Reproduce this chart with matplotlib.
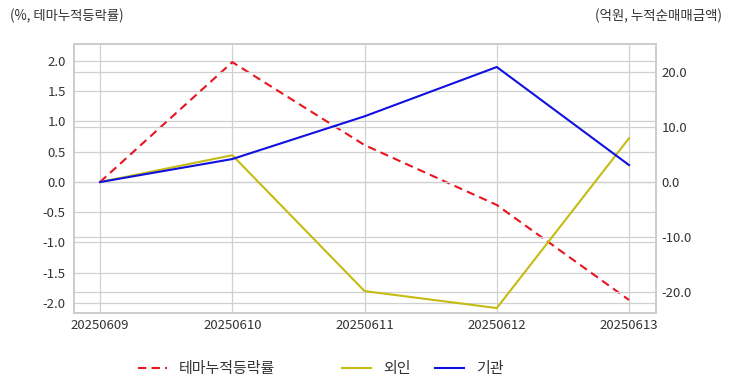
import matplotlib
matplotlib.use("Agg")
import matplotlib.pyplot as plt

plt.rcParams['font.family'] = ['Noto Sans CJK KR', 'DejaVu Sans']
plt.rcParams['axes.unicode_minus'] = False

dates = ['20250609', '20250610', '20250611', '20250612', '20250613']
theme_rate = [0.0, 1.98, 0.61, -0.38, -1.95]
foreign = [0.0, 4.9, -19.9, -23.0, 8.0]
institution = [0.0, 4.2, 12.0, 21.0, 3.1]

grid_c = '#d0d0d0'
text_c = '#333333'

fig = plt.figure(figsize=(7.32, 3.92), dpi=100)
ax = fig.add_axes([74/732, 1 - 313/392, (656-74)/732, (313-44)/392])
ax2 = ax.twinx()

x = list(range(len(dates)))
l1, = ax.plot(x, theme_rate, color='#e8141e', ls='--', lw=1.5, dashes=(4, 2.5), label='테마누적등락률')
l2, = ax2.plot(x, foreign, color='#c4bc12', lw=1.5, label='외인')
l3, = ax2.plot(x, institution, color='#1010e0', lw=1.5, label='기관')

ax.set_xlim(-0.197, 4.204)
ax.set_ylim(-2.165, 2.28)
ax2.set_ylim(-23.9, 25.2)
ax.set_xticks(x)
ax.set_xticklabels(dates)
left_ticks = [2.0, 1.5, 1.0, 0.5, 0.0, -0.5, -1.0, -1.5, -2.0]
ax.set_yticks(left_ticks)
ax.set_yticklabels([f'{v:.1f}' for v in left_ticks])
ax2.set_yticks([20, 10, 0, -10, -20])
ax2.set_yticklabels(['20.0', '10.0', '0.0', '-10.0', '-20.0'])

for a in (ax, ax2):
    a.grid(True, color=grid_c, lw=0.9)
    a.tick_params(length=0, colors=text_c, labelsize=9.5)
    for s in a.spines.values():
        s.set_color('#cccccc')
        s.set_linewidth(1.2)
ax2.xaxis.grid(False)
ax.set_axisbelow(True)
ax2.set_axisbelow(True)
ax.tick_params(axis='y', pad=6)
ax.tick_params(axis='x', pad=4)
ax2.tick_params(axis='y', pad=4)

fig.text(10/732, 1 - 16/392, '(%, 테마누적등락률)', fontsize=9.6, color=text_c, va='center', ha='left')
fig.text(722/732, 1 - 16/392, '(억원, 누적순매매금액)', fontsize=9.7, color=text_c, va='center', ha='right')

# legend entries placed individually (spacing in the original is uneven)
for h, xpos in [(l1, 138), (l2, 342), (l3, 435)]:
    fig.legend(handles=[h], loc='center left', bbox_to_anchor=(xpos/732, 1 - 369/392),
               frameon=False, fontsize=10.8, labelcolor=text_c, borderpad=0,
               borderaxespad=0, handlelength=1.93, handletextpad=0.8)

fig.savefig('out.png', dpi=100, facecolor='white')
